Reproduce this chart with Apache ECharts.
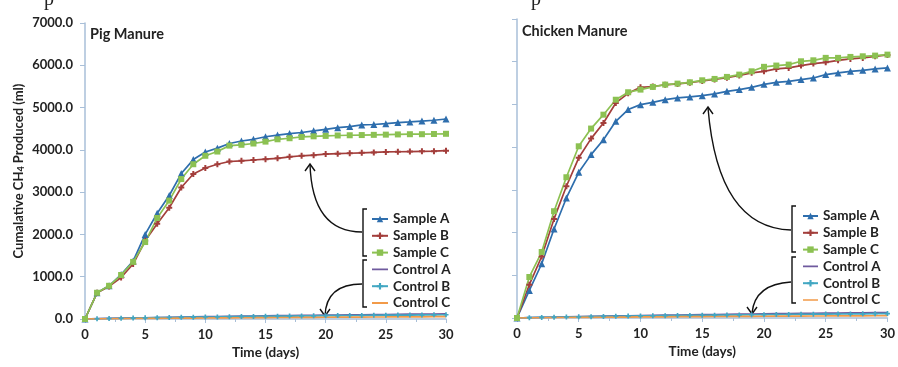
<!DOCTYPE html>
<html>
<head>
<meta charset="utf-8">
<script src="https://cdn.jsdelivr.net/npm/echarts@6/dist/echarts.min.js"></script>
<style>
  html, body { margin: 0; padding: 0; background: #fff; }
  #chart { width: 898px; height: 367px; }
</style>
</head>
<body>
<div id="chart"></div>
<script>
// days 0..30
const days = [0,1,2,3,4,5,6,7,8,9,10,11,12,13,14,15,16,17,18,19,20,21,22,23,24,25,26,27,28,29,30]
const xTicks = [0, 5, 10, 15, 20, 25, 30]
const yTicks = [0, 1000, 2000, 3000, 4000, 5000, 6000, 7000]
const seriesNames = ['Sample A', 'Sample B', 'Sample C', 'Control A', 'Control B', 'Control C']

// pig manure (ml CH4, cumulative)
const pigSampleA = [0,620,785,1050,1370,2000,2500,2920,3440,3770,3950,4040,4150,4210,4250,4310,4350,4385,4410,4450,4485,4525,4550,4590,4600,4620,4645,4660,4680,4700,4730]
const pigSampleB = [0,620,770,980,1300,1850,2250,2630,3110,3430,3570,3660,3725,3740,3760,3780,3800,3835,3860,3875,3900,3910,3920,3930,3940,3950,3955,3960,3965,3970,3980]
const pigSampleC = [0,620,785,1040,1350,1820,2390,2800,3310,3660,3860,3960,4100,4120,4150,4195,4250,4275,4305,4320,4330,4340,4345,4350,4355,4360,4365,4370,4370,4375,4380]
const pigControlA = [0,8,14,20,25,30,35,40,45,50,55,58,62,66,70,74,78,82,85,88,92,95,98,101,104,107,110,113,116,118,120]
const pigControlB = [0,6,12,17,22,27,31,35,39,43,47,50,54,57,60,63,66,69,72,75,78,80,83,85,88,90,92,94,96,98,100]
const pigControlC = [0,3,6,9,12,14,16,18,20,22,24,26,28,30,31,33,35,36,38,40,41,43,44,46,47,48,50,51,52,54,55]

// chicken manure
const chkSampleA = [0,645,1270,2085,2810,3410,3825,4175,4605,4880,4995,5049,5112,5152,5176,5206,5246,5307,5347,5400,5470,5518,5541,5581,5620,5698,5738,5775,5799,5831,5855]
const chkSampleB = [0,780,1440,2320,3085,3750,4200,4565,5035,5260,5400,5420,5460,5480,5510,5550,5585,5625,5680,5740,5775,5831,5855,5909,5956,5986,6033,6066,6089,6127,6160]
const chkSampleC = [0,960,1545,2500,3295,4020,4435,4760,5110,5285,5347,5410,5464,5487,5518,5565,5597,5644,5698,5775,5880,5910,5932,6010,6033,6090,6090,6112,6127,6143,6166]
const chkControlA = [0,9,16,22,28,33,38,43,48,53,58,62,66,70,74,78,82,86,90,94,98,101,104,107,110,113,116,119,122,125,128]
const chkControlB = [0,7,13,18,23,28,32,36,40,44,48,51,55,58,61,64,67,70,73,76,79,82,84,87,89,92,94,96,98,101,104]
const chkControlC = [0,3,6,9,12,14,16,18,20,22,24,26,28,30,32,33,35,36,38,40,41,43,44,46,47,48,50,51,52,53,55]

const colors = ['#2e6ead', '#a33e3b', '#8cc152', '#6f5a9e', '#42a7c2', '#f29a48']
const plus = 'path://M2,0H4V2H6V4H4V6H2V4H0V2H2Z'
// plain line icon for the legend (thin bar inside a full-height box)
const lineIcon = 'path://M0,0L20,0L20,0.01ZM0,2.9H20V5.1H0ZM0,8L20,8L20,8.01Z'
const symbols = ['triangle', plus, 'rect', 'none', plus, 'none']
const symSizes = [7, 6, 6, 0, 5, 0]

const pig = [pigSampleA, pigSampleB, pigSampleC, pigControlA, pigControlB, pigControlC]
const chk = [chkSampleA, chkSampleB, chkSampleC, chkControlA, chkControlB, chkControlC]

const font = 'Lato, "Open Sans", sans-serif'
const axisColor = '#a9bfd8'

function pairs(vals) {
  return days.map((d, i) => [d, vals[i]])
}

function makeSeries(sets, idx) {
  return sets.map((vals, i) => ({
    name: seriesNames[i],
    type: 'line',
    xAxisIndex: idx,
    yAxisIndex: idx,
    data: pairs(vals),
    symbol: symbols[i],
    symbolSize: symSizes[i],
    showSymbol: symbols[i] !== 'none',
    lineStyle: { width: 1.7, color: colors[i] },
    itemStyle: { color: colors[i] },
    z: i < 3 ? 3 : 2,
    animation: false
  }))
}

function xAxis(idx) {
  return {
    type: 'value', gridIndex: idx, min: xTicks[0], max: xTicks[xTicks.length - 1], interval: 5,
    name: 'Time (days)', nameLocation: 'middle', nameGap: 26,
    nameTextStyle: { fontFamily: font, fontWeight: 'bold', fontSize: 13.5, color: '#222' },
    axisLine: { lineStyle: { color: axisColor, width: 1.5 } },
    axisTick: { show: true, length: 4, lineStyle: { color: axisColor } },
    minorTick: { show: true, splitNumber: 2, length: 3, lineStyle: { color: axisColor } },
    axisLabel: { fontFamily: font, fontWeight: 'bold', fontSize: 13, color: '#222', margin: 9 },
    splitLine: { show: false }
  }
}

function yAxis(idx, labels) {
  return {
    type: 'value', gridIndex: idx, min: yTicks[0], max: yTicks[yTicks.length - 1], interval: 1000,
    name: labels ? 'Cumalative CH{sub|4} Produced (ml)' : '',
    nameLocation: 'middle', nameGap: 59, nameRotate: 90,
    nameTextStyle: {
      fontFamily: font, fontWeight: 'bold', fontSize: 13, color: '#222',
      rich: { sub: { fontFamily: font, fontWeight: 'bold', fontSize: 9, color: '#222', verticalAlign: 'bottom', padding: [6, 0, 0, 0] } }
    },
    axisLine: { show: true, lineStyle: { color: axisColor, width: 1.5 } },
    axisTick: { show: true, length: 5, lineStyle: { color: axisColor } },
    axisLabel: {
      show: labels, fontFamily: font, fontWeight: 'bold', fontSize: 13, color: '#222', margin: 12,
      formatter: v => v.toFixed(1)
    },
    splitLine: { show: false }
  }
}

function legend(left, top, w) {
  return {
    orient: 'vertical', left: left, top: top,
    data: seriesNames.map((n, i) => symbols[i] === 'none' ? { name: n, icon: lineIcon } : { name: n }),
    itemWidth: w, itemHeight: 8, itemGap: 2.8,
    textStyle: { fontFamily: font, fontWeight: 'bold', fontSize: 13.5, color: '#222', lineHeight: 14 },
    selectedMode: false
  }
}

function bracket(x, y1, y2) {
  return {
    type: 'polyline', silent: true,
    shape: { points: [[x + 4, y1], [x, y1], [x, y2], [x + 4, y2]] },
    style: { stroke: '#111', lineWidth: 1.4, fill: null }
  }
}
function curve(x1, y1, cx, cy, x2, y2) {
  return {
    type: 'bezierCurve', silent: true,
    shape: { x1: x1, y1: y1, cpx1: cx, cpy1: cy, x2: x2, y2: y2 },
    style: { stroke: '#111', lineWidth: 1.4, fill: null }
  }
}
function head(x, y, dir) {
  return {
    type: 'polyline', silent: true,
    shape: { points: [[x - 5, y - 7 * dir], [x, y], [x + 5, y - 7 * dir]] },
    style: { stroke: '#111', lineWidth: 1.4, fill: null }
  }
}

const chart = echarts.init(document.getElementById('chart'), null, { renderer: 'canvas' })
chart.setOption({
  backgroundColor: '#fff',
  color: colors,
  grid: [
    { left: 85, right: 452, top: 23, bottom: 48 },
    { left: 517, right: 8, top: 19, bottom: 49 }
  ],
  xAxis: [xAxis(0), xAxis(1)],
  yAxis: [yAxis(0, true), yAxis(1, false)],
  legend: [legend(366, 207, 16), legend(797, 204, 15)],
  title: [
    { text: 'Pig Manure', left: 90, top: 27, padding: 0, textStyle: { fontFamily: font, fontWeight: 'bold', fontSize: 14.5, color: '#222' } },
    { text: 'Chicken Manure', left: 522, top: 24, padding: 0, textStyle: { fontFamily: font, fontWeight: 'bold', fontSize: 14.5, color: '#222' } }
  ],
  series: makeSeries(pig, 0).concat(makeSeries(chk, 1)),
  graphic: [
    { type: 'text', left: 44, top: -10, style: { text: 'p', font: '20px "Liberation Serif"', fill: '#222' } },
    { type: 'text', left: 531, top: -10, style: { text: 'p', font: '20px "Liberation Serif"', fill: '#222' } },
    bracket(363, 209, 256),
    bracket(363, 260, 307),
    curve(362, 232, 312, 232, 310, 164),
    head(310, 164, -1),
    curve(362, 284, 326, 284, 325, 316),
    head(325, 316, 1),
    bracket(792, 206, 252),
    bracket(792, 257, 303),
    curve(791, 230, 718, 228, 708, 108),
    head(708, 107, -1),
    curve(791, 282, 755, 284, 752, 313),
    head(752, 314, 1)
  ]
})
</script>
</body>
</html>
